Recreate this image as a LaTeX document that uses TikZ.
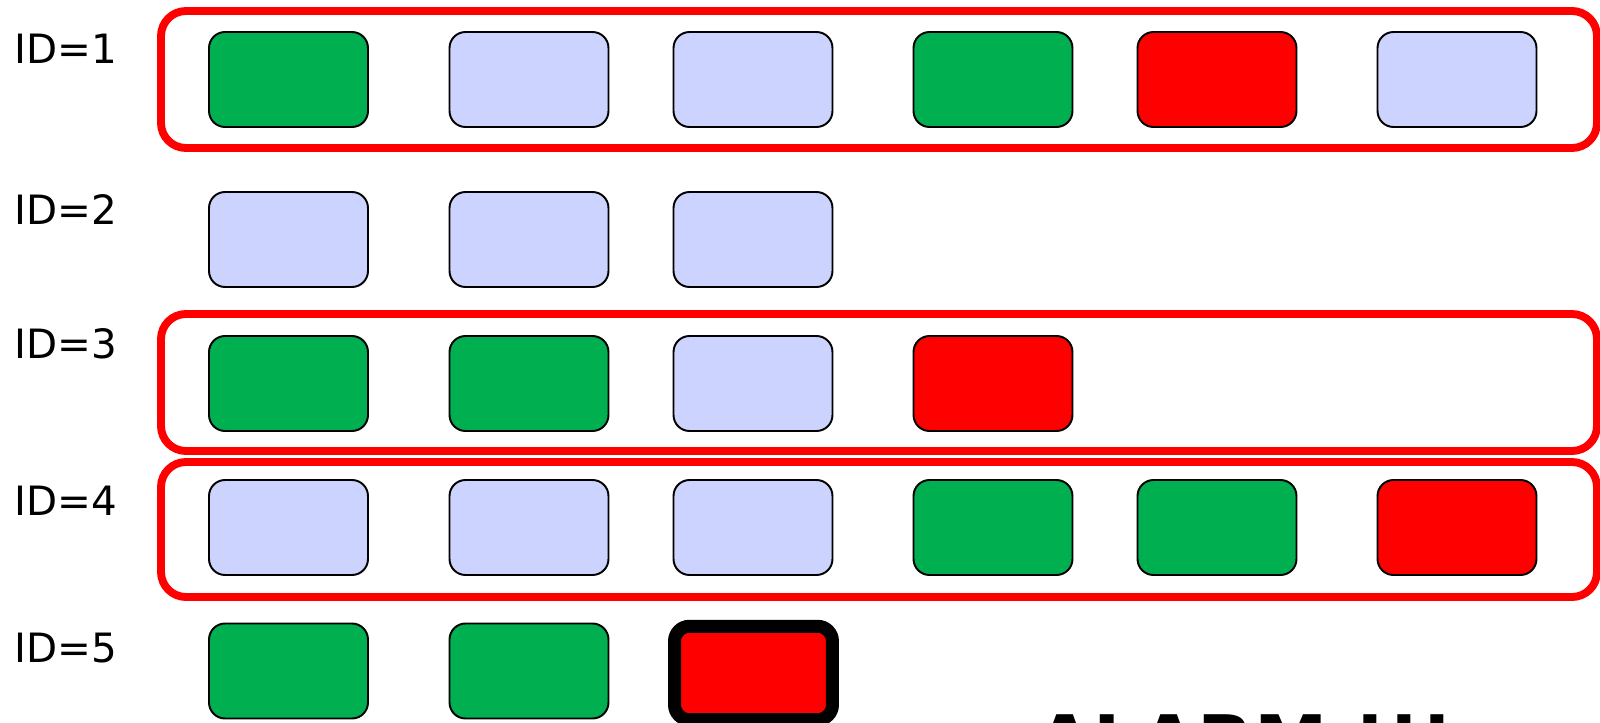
\documentclass[tikz,border=0pt]{standalone}
\usepackage{fontspec}
\setmainfont{DejaVu Sans}
\usepackage{tikz}
\usetikzlibrary{positioning}
\definecolor{mygreen}{RGB}{0,176,80}
\definecolor{mylav}{RGB}{204,211,255}
\definecolor{myred}{RGB}{255,0,0}
\tikzset{
  msg/.style={rectangle, draw=black, line width=1.1pt,
    minimum width=3.18cm, minimum height=1.9cm,
    rounded corners=0.32cm, inner sep=0pt},
  okmsg/.style={msg, fill=mygreen},
  idlemsg/.style={msg, fill=mylav},
  errmsg/.style={msg, fill=myred},
  alarmmsg/.style={errmsg, line width=7.4pt,
    minimum width=3.16cm, minimum height=1.87cm, rounded corners=0.3cm},
  group/.style={draw=myred, line width=4.5pt, rounded corners=0.5cm},
  idlabel/.style={anchor=west, inner sep=0pt, font=\fontsize{23}{28}\selectfont}
}

\begin{document}
\begin{tikzpicture}[x=0.02cm, y=-0.02cm]
  \useasboundingbox (0,0) rectangle (1600,723);

  % Group frames
  \draw[group] (161,11) rectangle (1597,148);
  \draw[group] (161,314) rectangle (1597,451);
  \draw[group] (161,462) rectangle (1597,597);

  % Row labels
  \node[idlabel] (id1) at (14,48.5) {ID=1};
  \node[idlabel] (id2) at (14,209.5) {ID=2};
  \node[idlabel] (id3) at (14,344) {ID=3};
  \node[idlabel] (id4) at (14,501) {ID=4};
  \node[idlabel] (id5) at (14,648.5) {ID=5};

  % ID=1
  \node[okmsg] (r1c1) at (288.5,79.5) {};
  \node[idlemsg] (r1c2) at (529,79.5) {};
  \node[idlemsg] (r1c3) at (753,79.5) {};
  \node[okmsg] (r1c4) at (993,79.5) {};
  \node[errmsg] (r1c5) at (1217,79.5) {};
  \node[idlemsg] (r1c6) at (1457,79.5) {};

  % ID=2
  \node[idlemsg] (r2c1) at (288.5,239.5) {};
  \node[idlemsg] (r2c2) at (529,239.5) {};
  \node[idlemsg] (r2c3) at (753,239.5) {};

  % ID=3
  \node[okmsg] (r3c1) at (288.5,383.5) {};
  \node[okmsg] (r3c2) at (529,383.5) {};
  \node[idlemsg] (r3c3) at (753,383.5) {};
  \node[errmsg] (r3c4) at (993,383.5) {};

  % ID=4
  \node[idlemsg] (r4c1) at (288.5,527.5) {};
  \node[idlemsg] (r4c2) at (529,527.5) {};
  \node[idlemsg] (r4c3) at (753,527.5) {};
  \node[okmsg] (r4c4) at (993,527.5) {};
  \node[okmsg] (r4c5) at (1217,527.5) {};
  \node[errmsg] (r4c6) at (1457,527.5) {};

  % ID=5
  \node[okmsg] (r5c1) at (288.5,671) {};
  \node[okmsg] (r5c2) at (529,671) {};
  \node[alarmmsg] (r5c3) at (753.5,673) {};

  \node[anchor=base west, inner sep=0pt, font=\fontsize{42}{48}\selectfont\bfseries]
    (alarm) at (1036,768) {ALARM !!!};
\end{tikzpicture}
\end{document}
